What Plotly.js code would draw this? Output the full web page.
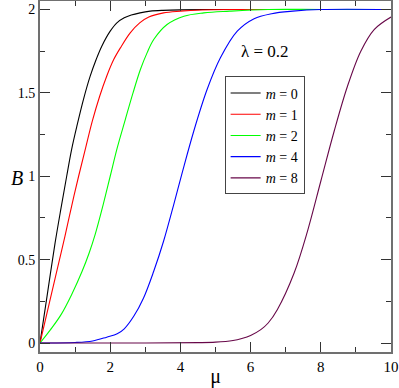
<!DOCTYPE html>
<html>
<head>
<meta charset="utf-8">
<script src="https://cdn.plot.ly/plotly-3.0.1.min.js"></script>
<style>html,body{margin:0;padding:0;background:#fff;}#chart{width:399px;height:388px;}</style>
</head>
<body>
<div id="chart"></div>
<script>
// m = 0
const mu0 = [0, 0.2, 0.43, 0.6, 0.76, 0.9, 1.05, 1.25, 1.43, 1.6, 1.76, 2.0, 2.19, 2.4, 2.6, 2.85, 3.14, 3.5, 4, 5, 6, 8, 10];
const B0  = [0, 0.28, 0.60, 0.81, 1.0, 1.16, 1.30, 1.47, 1.60, 1.70, 1.78, 1.87, 1.92, 1.95, 1.967, 1.98, 1.99, 1.995, 1.998, 2, 2, 2, 2];
// m = 1
const mu1 = [0, 0.3, 0.5, 0.71, 0.9, 1.1, 1.3, 1.49, 1.7, 1.9, 2.1, 2.29, 2.57, 2.84, 3.1, 3.52, 4.0, 4.6, 5.5, 7, 10];
const B1  = [0, 0.27, 0.45, 0.64, 0.82, 1.0, 1.17, 1.33, 1.48, 1.60, 1.70, 1.77, 1.86, 1.92, 1.955, 1.98, 1.99, 1.997, 2, 2, 2];
// m = 2
const mu2 = [0, 0.3, 0.6, 0.9, 1.2, 1.4, 1.57, 1.8, 2.0, 2.2, 2.43, 2.65, 2.86, 3.05, 3.24, 3.62, 4.1, 4.67, 5.4, 6.5, 8, 10];
const B2  = [0, 0.08, 0.17, 0.29, 0.43, 0.54, 0.65, 0.83, 1.0, 1.17, 1.34, 1.50, 1.64, 1.74, 1.82, 1.91, 1.96, 1.98, 1.99, 2, 2, 2];
// m = 4
const mu4 = [0, 1.0, 1.5, 1.9, 2.2, 2.4, 2.67, 2.95, 3.24, 3.52, 3.81, 4.05, 4.38, 4.76, 5.14, 5.62, 6.1, 6.6, 7.2, 8, 10];
const B4  = [0, 0.003, 0.012, 0.035, 0.055, 0.085, 0.16, 0.27, 0.43, 0.61, 0.83, 1.02, 1.27, 1.52, 1.71, 1.87, 1.945, 1.975, 1.99, 2.0, 2.0];
// m = 8
const mu8 = [0, 3, 4.5, 5.0, 5.5, 5.75, 6.0, 6.29, 6.5, 6.76, 7.24, 7.62, 8.0, 8.38, 8.76, 9.14, 9.52, 10];
const B8  = [0, 0, 0.002, 0.005, 0.015, 0.027, 0.045, 0.08, 0.12, 0.20, 0.42, 0.67, 0.97, 1.27, 1.54, 1.75, 1.88, 1.955];

const seriesNames = ['<i>m</i> = 0', '<i>m</i> = 1', '<i>m</i> = 2', '<i>m</i> = 4', '<i>m</i> = 8'];
const seriesColors = ['#000000', '#ff0000', '#00ff00', '#0000ff', '#670748'];
const xs = [mu0, mu1, mu2, mu4, mu8];
const ys = [B0, B1, B2, B4, B8];

const FONT = 'Liberation Serif';

const traces = xs.map((x, i) => ({
  x: x, y: ys[i], type: 'scatter', mode: 'lines',
  name: seriesNames[i],
  line: {color: seriesColors[i], width: 1.1, shape: 'spline', smoothing: 1}
}));

const layout = {
  width: 399, height: 388,
  margin: {l: 40, r: 8, t: 1, b: 36},
  paper_bgcolor: '#fff', plot_bgcolor: '#fff',
  font: {family: FONT, size: 14, color: '#000'},
  showlegend: true,
  legend: {
    x: 0.526, xanchor: 'left', y: 0.617, yanchor: 'middle',
    bgcolor: '#fff', bordercolor: '#444', borderwidth: 1,
    font: {family: FONT, size: 14, color: '#000'},
    itemwidth: 30, tracegroupgap: 0
  },
  xaxis: {
    range: [0, 10], tick0: 0, dtick: 2,
    ticks: 'inside', ticklen: 10, tickwidth: 1, tickcolor: '#333',
    minor: {dtick: 1, ticks: 'inside', ticklen: 5, tickwidth: 1, tickcolor: '#333'},
    showline: true, linecolor: '#707070', linewidth: 2, mirror: 'ticks',
    showgrid: false, zeroline: false,
    tickfont: {family: FONT, size: 15, color: '#000'},
    title: {text: 'μ', font: {family: FONT, size: 20, color: '#000'}, standoff: 4}
  },
  yaxis: {
    range: [-0.054, 2.051], tick0: 0, dtick: 0.5,
    ticks: 'inside', ticklen: 10, tickwidth: 1, tickcolor: '#333',
    minor: {dtick: 0.25, ticks: 'inside', ticklen: 5, tickwidth: 1, tickcolor: '#333'},
    showline: true, linecolor: '#707070', linewidth: 2, mirror: 'ticks',
    showgrid: false, zeroline: false,
    tickfont: {family: FONT, size: 14, color: '#000'},
    title: {text: ''}
  },
  annotations: [
    {x: 6.4, y: 1.75, xref: 'x', yref: 'y', text: 'λ = 0.2', showarrow: false,
     font: {family: FONT, size: 17, color: '#000'}},
    {x: -0.088, y: 0.99, xref: 'paper', yref: 'y', text: '<i>B</i>', showarrow: false,
     font: {family: FONT, size: 20, color: '#000'}}
  ]
};

Plotly.newPlot('chart', traces, layout, {displayModeBar: false, staticPlot: true});
</script>
</body>
</html>
